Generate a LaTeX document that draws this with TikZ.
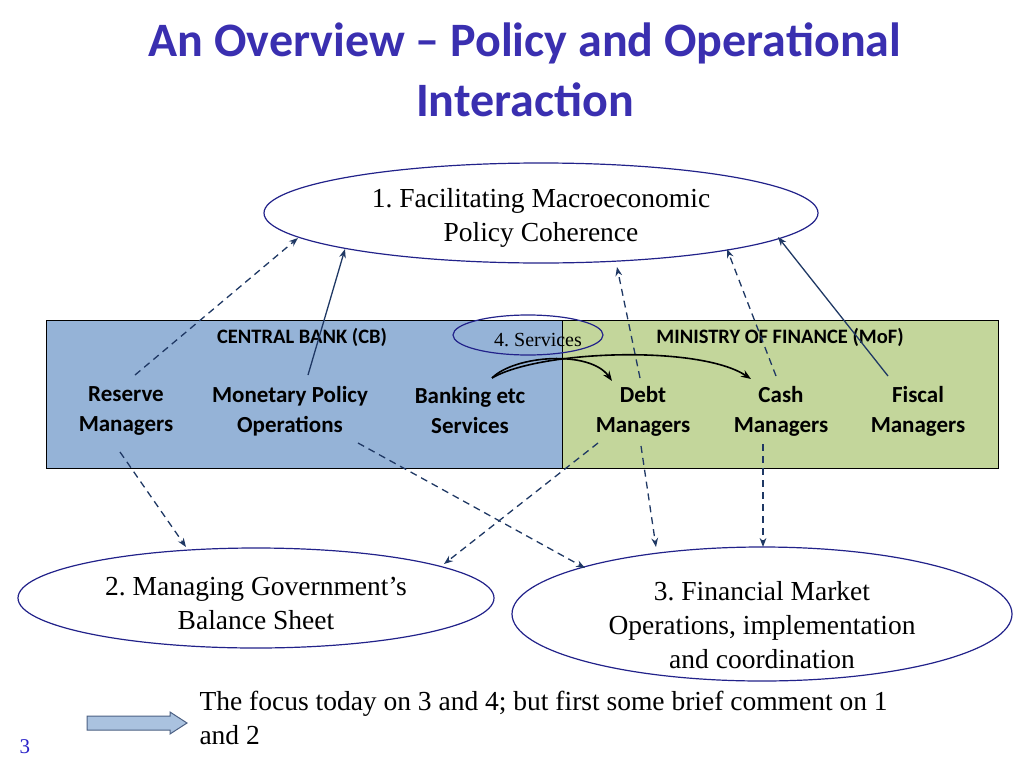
\documentclass[tikz,border=0pt]{standalone}
\usepackage{fontspec}
\setmainfont{Liberation Serif}
\newfontfamily\calfont{Carlito}
\usetikzlibrary{arrows.meta,shapes.geometric}
\definecolor{ttl}{HTML}{3A2FB0}
\definecolor{navy}{HTML}{1F3864}
\definecolor{cbblue}{HTML}{95B3D7}
\definecolor{mofgreen}{HTML}{C3D69B}
\definecolor{elb}{HTML}{22228A}
\frenchspacing
\begin{document}
\begin{tikzpicture}[x=1pt,y=-1pt,
  ell/.style={draw=elb,line width=1.2pt,fill=white,ellipse,inner sep=0pt},
  et/.style={font=\fontsize{27.5}{34}\selectfont,align=center},
  lab/.style={font=\calfont\bfseries\fontsize{23}{30}\selectfont,align=center},
  da/.style={draw=navy,line width=1.3pt,dashed,dash pattern=on 7pt off 5pt,-{Stealth[length=9pt]}},
  sa/.style={draw=navy,line width=1.3pt,-{Stealth[length=9pt]}}]
\useasboundingbox (0,0) rectangle (1024,768);
\node[font=\calfont\bfseries\fontsize{48}{60}\selectfont,text=ttl,align=center] (title) at (525,70) {An Overview \textendash{} Policy and Operational\\Interaction};
\node[ell,minimum width=554,minimum height=100] (e1) at (541,213) {};
\node[et] (t1) at (541,218) {1. Facilitating Macroeconomic\\Policy Coherence};
\draw[fill=cbblue,draw=black,line width=1pt] (46,320) rectangle (562,468);
\draw[fill=mofgreen,draw=black,line width=1pt] (562,320) rectangle (998,468);
\node[lab,font=\calfont\bfseries\fontsize{20.5}{30}\selectfont] (cb) at (302,337) {CENTRAL BANK (CB)};
\node[lab,font=\calfont\bfseries\fontsize{20.5}{30}\selectfont] (mof) at (780,337) {MINISTRY OF FINANCE (MoF)};
\node[ell,line width=1.2pt,fill=none,minimum width=150,minimum height=40] (e4) at (528,335) {};
\node[font=\fontsize{20}{22}\selectfont] (t4) at (538,340) {4. Services};
\node[lab] (rm) at (126,411) {Reserve\\Managers};
\node[lab] (mp) at (290,411) {Monetary Policy\\Operations};
\node[lab] (bk) at (470,411) {Banking etc\\Services};
\node[lab] (dm) at (643,411) {Debt\\Managers};
\node[lab] (cm) at (781,411) {Cash\\Managers};
\node[lab] (fm) at (918,411) {Fiscal\\Managers};
\node[ell,minimum width=476,minimum height=100] (e2) at (256,598) {};
\node[et] (t2) at (256,603) {2. Managing Government's\\Balance Sheet};
\node[ell,minimum width=500,minimum height=134] (e3) at (762,614) {};
\node[et] (t3) at (762,625) {3. Financial Market\\Operations, implementation\\and coordination};
% connectors
\coordinate (a1) at (135,375); \coordinate (a2) at (298,238);
\draw[da] (a1) -- (a2);
\coordinate (b1) at (308,375); \coordinate (b2) at (345,249);
\draw[sa] (b1) -- (b2);
\coordinate (c1) at (640,378); \coordinate (c2) at (617,267);
\draw[da] (c1) -- (c2);
\coordinate (d1) at (776,376); \coordinate (d2) at (727,249);
\draw[da] (d1) -- (d2);
\coordinate (f1) at (888,376); \coordinate (f2) at (778,237);
\draw[sa] (f1) -- (f2);
\coordinate (g1) at (120,452); \coordinate (g2) at (186,547);
\draw[da] (g1) -- (g2);
\coordinate (h1) at (358,443); \coordinate (h2) at (585,568);
\draw[da] (h1) -- (h2);
\coordinate (i1) at (598,443); \coordinate (i2) at (444,564);
\draw[da] (i1) -- (i2);
\coordinate (j1) at (641,446); \coordinate (j2) at (656,547);
\draw[da] (j1) -- (j2);
\coordinate (k1) at (763,444); \coordinate (k2) at (763,547);
\draw[da] (k1) -- (k2);
\coordinate (s0) at (492,378); \coordinate (s1) at (612,381); \coordinate (s2) at (751,379);
\draw[black,line width=1.6pt,-{Stealth[length=10pt]}] (s0) .. controls (515,355) and (590,350) .. (s1);
\draw[black,line width=1.6pt,-{Stealth[length=10pt]}] (s0) .. controls (540,350) and (700,345) .. (s2);
% bottom
\draw[fill=cbblue!80!white,draw=navy!80,line width=1pt] (87,716) -- (170,716) -- (170,712) -- (187,723) -- (170,734) -- (170,730) -- (87,730) -- cycle;
\node[font=\fontsize{27.5}{34}\selectfont,align=left,anchor=north west] (note) at (196,688) {The focus today on 3 and 4; but first some brief comment on 1\\and 2};
\node[font=\fontsize{21}{22}\selectfont,text=ttl!70!blue] (pg) at (25,747) {3};
\end{tikzpicture}
\end{document}
